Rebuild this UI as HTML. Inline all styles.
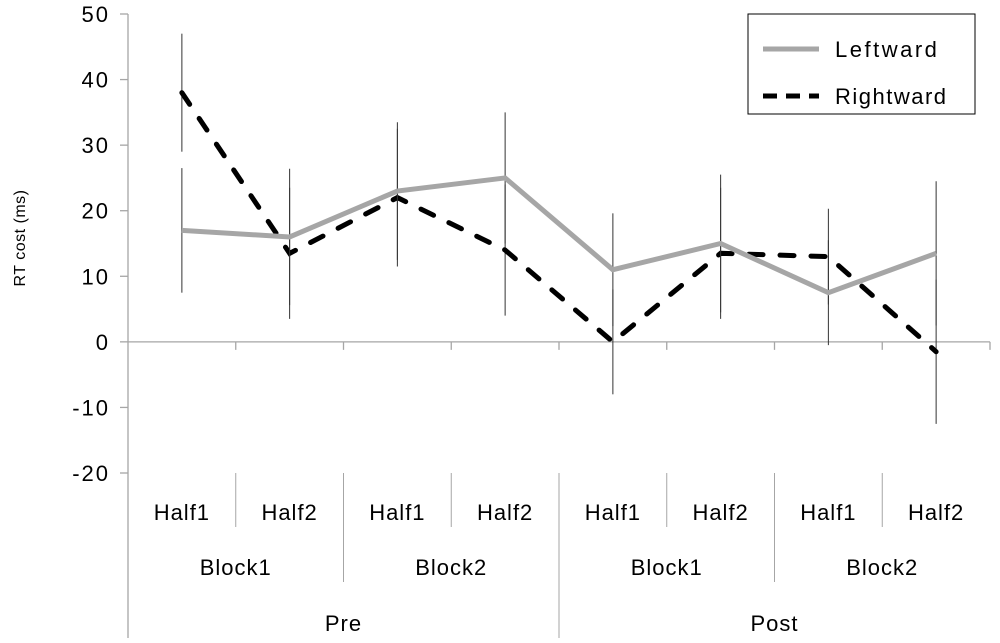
<!DOCTYPE html>
<html><head><meta charset="utf-8"><style>
body{margin:0;background:#fff}
svg text{font-family:"Liberation Sans",sans-serif;fill:#000}
</style></head><body>
<svg id="chart" width="1000" height="638" xmlns="http://www.w3.org/2000/svg">
<g id="grid"></g><g id="marks"></g>
<g>
<rect x="748" y="14" width="227" height="100" fill="#fff" stroke="#000" stroke-width="1"/>
<line x1="763" y1="49" x2="819" y2="49" stroke="#a6a6a6" stroke-width="5"/>
<text x="835" y="57" font-size="22" letter-spacing="2.5">Leftward</text>
<line x1="763" y1="96" x2="819" y2="96" stroke="#000" stroke-width="5" stroke-dasharray="14,9"/>
<text x="835" y="104" font-size="22" letter-spacing="1.5">Rightward</text>
</g>
<text transform="translate(25,238) rotate(-90)" text-anchor="middle" font-size="16" letter-spacing="0.5">RT cost (ms)</text>
</svg>
<script>
const halves=["Half1","Half2","Half1","Half2","Half1","Half2","Half1","Half2"];
const blocks=["Block1","Block2","Block1","Block2"];
const phases=["Pre","Post"];
const leftward=[17,16,23,25,11,15,7.5,13.5];
const leftErr=[9.5,10.4,10.5,10,8.6,10.5,8,11];
const rightward=[38,13.5,22,14,0,13.5,13,-1.5];
const rightErr=[9,10,10.5,10,8,10,7.3,11];
const yTicks=[50,40,30,20,10,0,-10,-20];
const X0=128,X1=990,Y0=14,Y1=473,ymin=-20,ymax=50;
const cw=(X1-X0)/halves.length;
const y=v=>Y0+(ymax-v)/(ymax-ymin)*(Y1-Y0);
const x=i=>X0+cw*(i+0.5);
const NS="http://www.w3.org/2000/svg";
const g=document.getElementById('grid'),m=document.getElementById('marks');
function el(p,t,a){const e=document.createElementNS(NS,t);for(const k in a)e.setAttribute(k,a[k]);p.appendChild(e);return e;}
let e;
e=el(g,'line',{x1:X0,y1:Y0,x2:X0,y2:638,stroke:'#a6a6a6','stroke-width':1.3});


yTicks.forEach(t=>{
 e=el(g,'line',{x1:X0-8,y1:y(t),x2:X0,y2:y(t),stroke:'#a6a6a6','stroke-width':1.3});
 
 
 e=el(g,'text',{x:X0-18,y:y(t)+8,'text-anchor':'end','font-size':22,'letter-spacing':2});e.textContent=t;
 
 
});
e=el(g,'line',{x1:X0,y1:y(0),x2:X1,y2:y(0),stroke:'#a6a6a6','stroke-width':1.3});


for(let i=1;i<=halves.length;i++){
 const xx=X0+cw*i;
 e=el(g,'line',{x1:xx,y1:y(0),x2:xx,y2:y(0)+8,stroke:'#a6a6a6','stroke-width':1.3});
 
 
 let y2=i%4==0?638:(i%2==0?582:527);
 if(i<halves.length){e=el(g,'line',{x1:xx,y1:Y1,x2:xx,y2:y2,stroke:'#a6a6a6','stroke-width':1});
 
 }
}
halves.forEach((h,i)=>{e=el(g,'text',{x:x(i),y:520,'text-anchor':'middle','font-size':22,'letter-spacing':1});e.textContent=h;
 
 });
blocks.forEach((b,i)=>{e=el(g,'text',{x:X0+cw*(2*i+1),y:575,'text-anchor':'middle','font-size':22,'letter-spacing':1});e.textContent=b;
 
 });
phases.forEach((p,i)=>{e=el(g,'text',{x:X0+cw*(4*i+2),y:631,'text-anchor':'middle','font-size':22,'letter-spacing':1});e.textContent=p;
 
 });
function series(vals,errs,stroke,dash,name){
 vals.forEach((v,i)=>{e=el(m,'line',{x1:x(i),y1:y(v+errs[i]),x2:x(i),y2:y(v-errs[i]),stroke:'#333','stroke-width':1});
  
  });
 const a={points:vals.map((v,i)=>x(i)+','+y(v)).join(' '),fill:'none',stroke:stroke,'stroke-width':5,'stroke-linejoin':'miter','stroke-linecap':dash?'round':'butt'};
 if(dash)a['stroke-dasharray']=dash;
 e=el(m,'polyline',a);
 
 
}
series(rightward,rightErr,'#000','14,17','rightward');
series(leftward,leftErr,'#a6a6a6',null,'leftward');
</script>
</body></html>
